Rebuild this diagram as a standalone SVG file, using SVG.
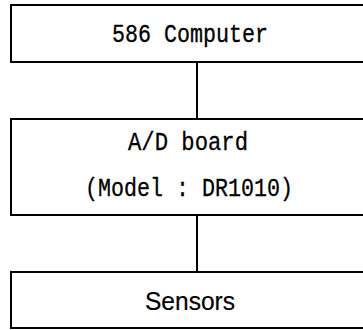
<svg xmlns="http://www.w3.org/2000/svg" width="363" height="330" viewBox="0 0 363 330">
<style>
.box{fill:#fff;stroke:#000;stroke-width:2}
.mono{font-family:"Liberation Mono","DejaVu Sans Mono",monospace;font-size:25px;fill:#000;stroke:#000;stroke-width:0.3;text-anchor:middle}
.sans{font-family:"Liberation Sans","DejaVu Sans",sans-serif;font-size:26px;fill:#000;stroke:#000;stroke-width:0.2;text-anchor:middle}
.conn{stroke:#000;stroke-width:2;fill:none}
</style>
<rect width="363" height="330" fill="#fff"/>
<g id="connectors">
<line class="conn" x1="197" y1="62" x2="197" y2="119"/>
<line class="conn" x1="197" y1="215" x2="197" y2="272"/>
</g>
<g id="computer">
<rect class="box" x="11" y="5" width="370" height="57"/>
<text class="mono" x="190" y="42" textLength="156" lengthAdjust="spacingAndGlyphs">586 Computer</text>
</g>
<g id="adboard">
<rect class="box" x="11" y="119" width="370" height="96"/>
<text class="mono" x="188" y="150" textLength="120" lengthAdjust="spacingAndGlyphs">A/D board</text>
<text class="mono" x="189" y="196" textLength="208" lengthAdjust="spacingAndGlyphs">(Model : DR1010)</text>
</g>
<g id="sensors">
<rect class="box" x="11" y="272" width="370" height="56"/>
<text class="sans" x="190" y="310" textLength="90" lengthAdjust="spacingAndGlyphs">Sensors</text>
</g>
</svg>
